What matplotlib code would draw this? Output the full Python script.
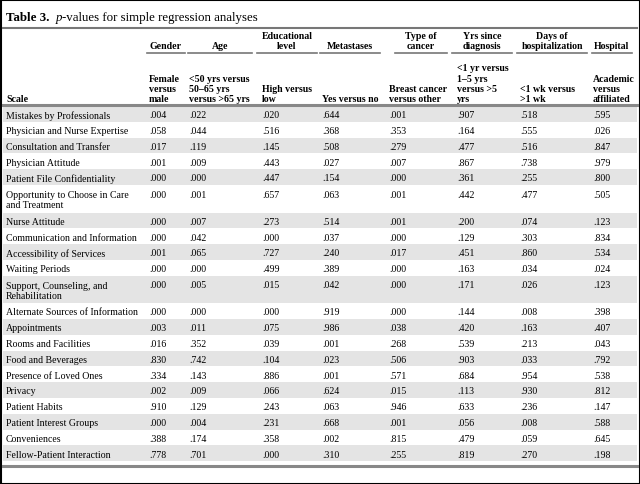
import matplotlib.pyplot as plt
from matplotlib.patches import Rectangle

plt.rcParams['font.family'] = ['Liberation Serif', 'DejaVu Serif']

scales = ["Mistakes by Professionals", "Physician and Nurse Expertise",
          "Consultation and Transfer", "Physician Attitude",
          "Patient File Confidentiality",
          "Opportunity to Choose in Care\nand Treatment",
          "Nurse Attitude", "Communication and Information",
          "Accessibility of Services", "Waiting Periods",
          "Support, Counseling, and\nRehabilitation",
          "Alternate Sources of Information", "Appointments",
          "Rooms and Facilities", "Food and Beverages",
          "Presence of Loved Ones", "Privacy", "Patient Habits",
          "Patient Interest Groups", "Conveniences",
          "Fellow-Patient Interaction"]

gender = [".004", ".058", ".017", ".001", ".000", ".000", ".000", ".000", ".001", ".000", ".000",
          ".000", ".003", ".016", ".830", ".334", ".002", ".910", ".000", ".388", ".778"]
age = [".022", ".044", ".119", ".009", ".000", ".001", ".007", ".042", ".065", ".000", ".005",
       ".000", ".011", ".352", ".742", ".143", ".009", ".129", ".004", ".174", ".701"]
education = [".020", ".516", ".145", ".443", ".447", ".657", ".273", ".000", ".727", ".499", ".015",
             ".000", ".075", ".039", ".104", ".886", ".066", ".243", ".231", ".358", ".000"]
metastases = [".644", ".368", ".508", ".027", ".154", ".063", ".514", ".037", ".240", ".389", ".042",
              ".919", ".986", ".001", ".023", ".001", ".624", ".063", ".668", ".002", ".310"]
cancer_type = [".001", ".353", ".279", ".007", ".000", ".001", ".001", ".000", ".017", ".000", ".000",
               ".000", ".038", ".268", ".506", ".571", ".015", ".946", ".001", ".815", ".255"]
yrs_diag = [".907", ".164", ".477", ".867", ".361", ".442", ".200", ".129", ".451", ".163", ".171",
            ".144", ".420", ".539", ".903", ".684", ".113", ".633", ".056", ".479", ".819"]
days_hosp = [".518", ".555", ".516", ".738", ".255", ".477", ".074", ".303", ".860", ".034", ".026",
             ".008", ".163", ".213", ".033", ".954", ".930", ".236", ".008", ".059", ".270"]
hospital = [".595", ".026", ".847", ".979", ".800", ".505", ".123", ".834", ".534", ".024", ".123",
            ".398", ".407", ".043", ".792", ".538", ".812", ".147", ".588", ".645", ".198"]

groups = ["Gender", "Age", "Educational\nlevel", "Metastases", "Type of\ncancer",
          "Yrs since\ndiagnosis", "Days of\nhospitalization", "Hospital"]
subheads = ["Female\nversus\nmale", "<50 yrs versus\n50\u201365 yrs\nversus >65 yrs",
            "High versus\nlow", "Yes versus no", "Breast cancer\nversus other",
            "<1 yr versus\n1\u20135 yrs\nversus >5\nyrs", "<1 wk versus\n>1 wk",
            "Academic\nversus\naffiliated"]

columns = [gender, age, education, metastases, cancer_type, yrs_diag, days_hosp, hospital]

# layout (pixel units)
col_x = [149, 189, 262, 322, 389, 457, 520, 593]
line_spans = [(147, 185), (188, 252), (257, 317), (320, 380), (395, 447),
              (452, 512), (517, 587), (592, 632)]
fs = 7.1
ls = 1.2

fig = plt.figure(figsize=(6.4, 4.85), dpi=100)
ax = fig.add_axes([0, 0, 1, 1])
ax.set_xlim(0, 640)
ax.set_ylim(485, 0)
ax.axis('off')

# border
ax.add_patch(Rectangle((0.5, 0.5), 639, 484, fill=False, edgecolor='black', lw=1.5))

# title, pieces placed one after another
r = fig.canvas.get_renderer()
x = 6
for txt, kw in [("Table 3.  ", dict(fontweight='bold')), ("p", dict(style='italic')),
                ("-values for simple regression analyses", {})]:
    t = ax.text(x, 18, txt, fontsize=9.3, va='center', **kw)
    x += t.get_window_extent(r).width
ax.plot([3, 637], [29, 29], color='#777777', lw=1.5)

# group headers
for g, (x0, x1) in zip(groups, line_spans):
    ax.text((x0 + x1) / 2, 51, g, fontsize=fs, fontweight='bold', ha='center', va='bottom',
            linespacing=ls)
    ax.plot([x0, x1], [54, 54], color='#777777', lw=1.2)

ax.text(6, 104.5, "Scale", fontsize=fs, fontweight='bold', va='bottom')
for s, cx in zip(subheads, col_x):
    ax.text(cx, 104.5, s, fontsize=fs, fontweight='bold', va='bottom', linespacing=ls)

ax.plot([3, 637], [106, 106], color='#888888', lw=2.2)

# body rows
y = 107
for i, name in enumerate(scales):
    two = '\n' in name
    h = 27.5 if two else 15.8
    if i % 2 == 0:
        ax.add_patch(Rectangle((3, y), 634, h, facecolor='#e4e4e4', edgecolor='none'))
    if two:
        ty = y + h / 2 - 4.5
        ax.text(6, y + h / 2 + 1, name, fontsize=fs, va='center', linespacing=ls)
    else:
        ty = y + h / 2 + 0.8
        ax.text(6, ty, name, fontsize=fs, va='center')
    for col, cx in zip(columns, col_x):
        ax.text(cx, ty, col[i], fontsize=fs, va='center')
    y += h

ax.plot([3, 637], [y + 4.5, y + 4.5], color='#888888', lw=2.2)

fig.savefig("out.png", dpi=100)
